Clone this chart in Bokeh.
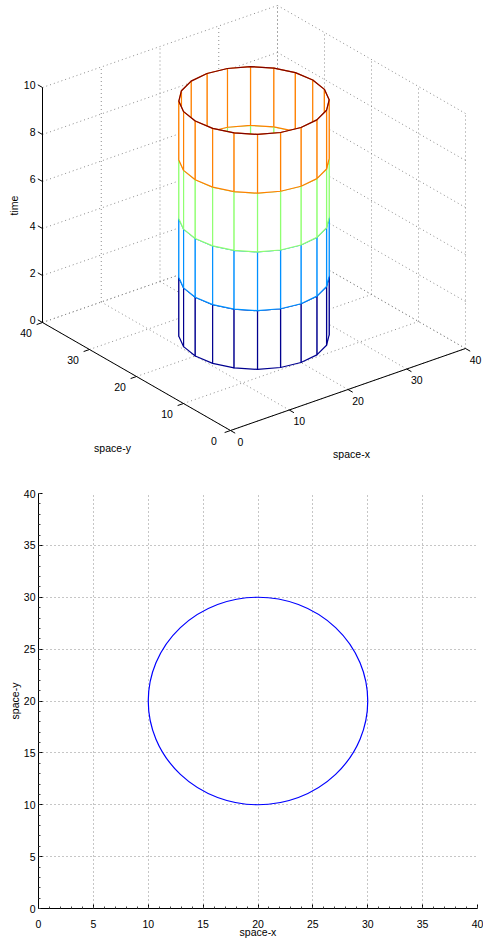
import numpy as np
from bokeh.plotting import figure
from bokeh.layouts import column
from bokeh.models import Range1d, SingleIntervalTicker, ColumnDataSource
from bokeh.embed import file_html
from bokeh.resources import INLINE
from bokeh.core.properties import value

# ---------------- data ----------------
circle_center_x = 20.0
circle_center_y = 20.0
circle_radius = 10.0
cylinder_facets = 20
time_levels = [0.0, 2.5, 5.0, 7.5, 10.0]
level_colors = ["#00008F", "#0090FF", "#8FFF70", "#FF8000", "#800000"]
space_ticks_3d = [0, 10, 20, 30, 40]
time_ticks = [0, 2, 4, 6, 8, 10]
space_ticks_2d = [0, 5, 10, 15, 20, 25, 30, 35, 40]

FONT = value("Liberation Sans")
FS = value("10.5px")

# ---------------- top: 3D view ----------------
W, H = 483, 470
O = (230.0, 40.0)
EX = (5.875, 2.05)
EY = (-4.7, 2.7)
EZ = (0.0, 23.5)


def proj(x, y, z):
    x = np.asarray(x, float); y = np.asarray(y, float); z = np.asarray(z, float)
    return (O[0] + EX[0] * x + EY[0] * y + EZ[0] * z,
            O[1] + EX[1] * x + EY[1] * y + EZ[1] * z)


# view direction (toward viewer) from projection null-space
r1 = np.array([EX[0], EY[0], EZ[0]])
r2 = np.array([EX[1], EY[1], EZ[1]])
vdir = np.cross(r1, r2)
if vdir[2] < 0:
    vdir = -vdir

p3 = figure(width=W, height=H, x_range=Range1d(0, W), y_range=Range1d(0, H),
            x_axis_type=None, y_axis_type=None, output_backend="svg",
            toolbar_location=None, min_border=0)
p3.frame_align = False
p3.grid.visible = False
p3.outline_line_color = None

xmax = space_ticks_3d[-1]
ymax = space_ticks_3d[-1]
zmax = time_ticks[-1]

# dotted grid on back planes
gxs, gys = [], []
def seg(a, b):
    X, Y = proj([a[0], b[0]], [a[1], b[1]], [a[2], b[2]])
    gxs.append(list(X)); gys.append(list(Y))

for t in space_ticks_3d:
    seg((t, 0, 0), (t, ymax, 0))      # floor lines along y
    seg((0, t, 0), (xmax, t, 0))      # floor lines along x
    seg((t, ymax, 0), (t, ymax, zmax))  # wall y=max verticals
    seg((xmax, t, 0), (xmax, t, zmax))  # wall x=max verticals
for z in time_ticks:
    seg((0, ymax, z), (xmax, ymax, z))
    seg((xmax, 0, z), (xmax, ymax, z))
p3.multi_line(xs=gxs, ys=gys, line_color="#8c8c8c", line_width=1, line_dash="1 3")

# axes lines and ticks
axs, ays = [], []
def aseg(a, b):
    X, Y = proj([a[0], b[0]], [a[1], b[1]], [a[2], b[2]])
    axs.append(list(X)); ays.append(list(Y))

aseg((0, 0, 0), (xmax, 0, 0))
aseg((0, 0, 0), (0, ymax, 0))
aseg((0, ymax, 0), (0, ymax, zmax))
for t in space_ticks_3d:
    aseg((t, 0, 0), (t, -1, 0))
    aseg((0, t, 0), (-1, t, 0))
for z in time_ticks:
    aseg((0, ymax, z), (0, ymax + 1, z))
p3.multi_line(xs=axs, ys=ays, line_color="black", line_width=1)

# cylinder mesh with hidden-surface removal (painter's order)
theta = np.linspace(0, 2 * np.pi, cylinder_facets + 1)
cxs = circle_center_x + circle_radius * np.cos(theta)
cys = circle_center_y + circle_radius * np.sin(theta)
quads = []
for j in range(len(time_levels) - 1):
    z0, z1 = time_levels[j], time_levels[j + 1]
    for k in range(cylinder_facets):
        vx = [cxs[k], cxs[k + 1], cxs[k + 1], cxs[k]]
        vy = [cys[k], cys[k + 1], cys[k + 1], cys[k]]
        vz = [z0, z0, z1, z1]
        center = np.array([np.mean(vx), np.mean(vy), np.mean(vz)])
        depth = float(center @ vdir)
        X, Y = proj(vx, vy, vz)
        quads.append((depth, list(X), list(Y), level_colors[j]))
quads.sort(key=lambda q: q[0])
p3.patches(xs=[q[1] for q in quads], ys=[q[2] for q in quads],
           fill_color="white", line_color=[q[3] for q in quads],
           line_width=1.2, line_join="round")
TX, TY = proj(cxs, cys, np.full_like(cxs, time_levels[-1]))
p3.line(list(TX), list(TY), line_color=level_colors[-1], line_width=1.2)

# tick labels
lx, ly, lt, la = [], [], [], []
for t in space_ticks_3d:
    X, Y = proj(t, 0, 0)
    lx.append(float(X) + 10); ly.append(float(Y) - 11); lt.append(str(t)); la.append("center")
    X, Y = proj(0, t, 0)
    lx.append(float(X) - 16.5); ly.append(float(Y) - 10.5); lt.append(str(t)); la.append("center")
for z in time_ticks:
    X, Y = proj(0, ymax, z)
    lx.append(float(X) - 7); ly.append(float(Y) + 3); lt.append(str(z)); la.append("right")
src = ColumnDataSource(dict(x=lx, y=ly, t=lt, a=la))
p3.text(x="x", y="y", text="t", text_align="a", source=src, text_baseline="middle",
        text_font=FONT, text_font_size=FS, text_color="black")
p3.text(x=[13], y=[H - 205], text=["time"], angle=np.pi / 2, text_align="center",
        text_baseline="middle", text_font=FONT, text_font_size=FS, text_color="black")
p3.text(x=[112, 351], y=[H - 447, H - 453], text=["space-y", "space-x"], text_align="center",
        text_baseline="middle", text_font=FONT, text_font_size=FS, text_color="black")

# ---------------- bottom: 2D view ----------------
p2 = figure(width=W, height=H, x_range=Range1d(0, 40), y_range=Range1d(0, 40),
            output_backend="svg", toolbar_location=None,
            min_border_left=38, min_border_right=6, min_border_top=23, min_border_bottom=31)
p2.frame_align = False
p2.outline_line_color = None
p2.ellipse(x=[circle_center_x], y=[circle_center_y], width=[2 * circle_radius],
           height=[2 * circle_radius], fill_color=None, line_color="#0000FF", line_width=1.2)

for ax in (p2.xaxis[0], p2.yaxis[0]):
    ax.ticker = SingleIntervalTicker(interval=5, num_minor_ticks=5)
    ax.major_tick_in = 4
    ax.major_tick_out = 0
    ax.minor_tick_in = 2
    ax.minor_tick_out = 0
    ax.axis_line_color = "black"
    ax.major_tick_line_color = "black"
    ax.minor_tick_line_color = "#444444"
    ax.major_label_text_font = "Liberation Sans"
    ax.major_label_text_font_size = "10.5px"
    ax.major_label_text_color = "black"
    ax.axis_label_text_font = "Liberation Sans"
    ax.axis_label_text_font_size = "10.5px"
    ax.axis_label_text_font_style = "normal"
    ax.axis_label_text_color = "black"
p2.xaxis.axis_label = "space-x"
p2.yaxis.axis_label = "space-y"
p2.xaxis.major_label_standoff = 11
p2.xaxis.axis_label_standoff = -5
p2.yaxis.major_label_standoff = 3
p2.yaxis.axis_label_standoff = 0
p2.yaxis.major_label_orientation = "horizontal"
p2.grid.grid_line_color = "#8c8c8c"
p2.grid.grid_line_dash = "1 3"
p2.grid.grid_line_width = 1

layout = column(p3, p2, spacing=0)
open("out.html", "w").write(file_html(layout, INLINE))
